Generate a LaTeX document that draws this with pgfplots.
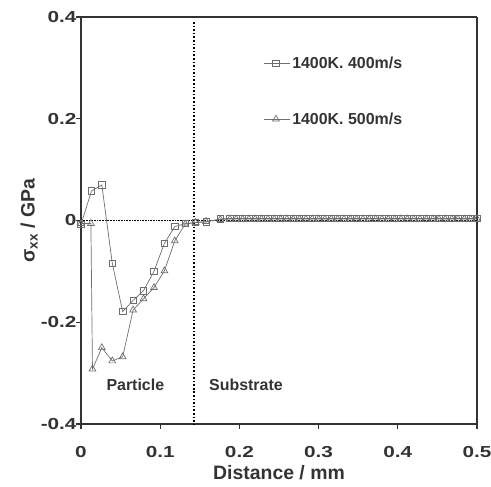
\documentclass[border=0pt]{standalone}
\usepackage{fontspec}
\setmainfont{Liberation Sans}
\newfontfamily\tickfont[FakeStretch=1.3]{Liberation Sans}
\usepackage{pgfplots}
\pgfplotsset{compat=1.18}
\definecolor{axgray}{HTML}{333333}
\definecolor{lngray}{HTML}{6E6E6E}

\pgfplotstableread{
x y
0 -0.008
0.0132 0.058
0.0263 0.070
0.0395 -0.084
0.0526 -0.179
0.0658 -0.157
0.0789 -0.138
0.0921 -0.100
0.1053 -0.045
0.1184 -0.012
0.1316 -0.006
0.1447 -0.004
0.1579 -0.003
0.176 0.003
0.188 0.004
0.196 0.004
0.204 0.004
0.212 0.004
0.220 0.004
0.228 0.004
0.236 0.004
0.244 0.004
0.252 0.004
0.260 0.004
0.268 0.004
0.276 0.004
0.284 0.004
0.292 0.004
0.300 0.004
0.308 0.004
0.316 0.004
0.324 0.004
0.332 0.004
0.340 0.004
0.348 0.004
0.356 0.004
0.364 0.004
0.372 0.004
0.380 0.004
0.388 0.004
0.396 0.004
0.404 0.004
0.412 0.004
0.420 0.004
0.428 0.004
0.436 0.004
0.444 0.004
0.452 0.004
0.460 0.004
0.468 0.004
0.476 0.004
0.484 0.004
0.492 0.004
0.500 0.004
}\sqdata

\pgfplotstableread{
x y
0 -0.006
0.0125 -0.006
0.0145 -0.292
0.0263 -0.250
0.0395 -0.276
0.0526 -0.268
0.0658 -0.176
0.0789 -0.154
0.0921 -0.132
0.1053 -0.099
0.1184 -0.040
0.1316 -0.007
0.1447 -0.004
0.1579 -0.002
0.176 0.002
0.188 0.003
0.196 0.003
0.204 0.003
0.212 0.003
0.220 0.003
0.228 0.003
0.236 0.003
0.244 0.003
0.252 0.003
0.260 0.003
0.268 0.003
0.276 0.003
0.284 0.003
0.292 0.003
0.300 0.003
0.308 0.003
0.316 0.003
0.324 0.003
0.332 0.003
0.340 0.003
0.348 0.003
0.356 0.003
0.364 0.003
0.372 0.003
0.380 0.003
0.388 0.003
0.396 0.003
0.404 0.003
0.412 0.003
0.420 0.003
0.428 0.003
0.436 0.003
0.444 0.003
0.452 0.003
0.460 0.003
0.468 0.003
0.476 0.003
0.484 0.003
0.492 0.003
0.500 0.003
}\tridata

\begin{document}
\begin{tikzpicture}
\begin{axis}[
    scale only axis,
    width=396bp, height=407bp,
    xmin=0, xmax=0.5, ymin=-0.4, ymax=0.4,
    xtick={0,0.1,0.2,0.3,0.4,0.5},
    ytick={-0.4,-0.2,0,0.2,0.4},
    xticklabels={0,0.1,0.2,0.3,0.4,0.5},
    yticklabels={-0.4,-0.2,0,0.2,0.4},
    separate axis lines,
    tick align=outside,
    xtick pos=bottom, ytick pos=left,
    major tick length=5bp,
    axis line style={axgray, line width=1.6pt},
    tick style={axgray, line width=1.3pt},
    ticklabel style={font=\tickfont\fontsize{16}{18}\selectfont\bfseries, text=axgray},
    xticklabel style={yshift=-14bp},
    yticklabel style={xshift=4bp},
    xlabel={Distance / mm},
    ylabel={σ\textsubscript{xx} / GPa},
    label style={font=\fontsize{19.5}{21}\selectfont\bfseries, text=axgray},
    xlabel style={at={(axis description cs:0.5,-0.119)}, anchor=center},
    ylabel style={at={(axis description cs:-0.131,0.5)}, anchor=center},
    legend style={draw=none, fill=none, at={(0.453,0.913)}, anchor=north west,
        font=\fontsize{16}{18}\selectfont\bfseries, text=axgray,
        row sep=39bp},
    legend cell align=left,
    legend image code/.code={
        \path (0bp,0bp) -- (26bp,0bp);
        \draw[#1] (0bp,0bp) -- (24bp,0bp);
        \draw[#1, only marks] plot coordinates {(12bp,0bp)};
    },
    clip=false,
]
\draw[black, densely dotted, line width=0.6pt] (axis cs:0,0) -- (axis cs:0.5,0);
\draw[black, dotted, line width=1.6pt] (axis cs:0.143,0.39) -- (axis cs:0.143,-0.4);
\addplot[lngray, line width=0.7pt, mark=square, mark size=3.2bp,
    mark options={solid, fill=white, draw=lngray, line width=0.7pt}]
    table[x=x, y=y] {\sqdata};
\addlegendentry{1400K. 400m/s}
\addplot[lngray, line width=0.7pt, mark=triangle, mark size=3.9bp,
    mark options={solid, fill=white, draw=lngray, line width=0.7pt}]
    table[x=x, y=y] {\tridata};
\addlegendentry{1400K. 500m/s}
\node[font=\fontsize{16}{18}\selectfont\bfseries, text=axgray] at (axis cs:0.0686,-0.323) {Particle};
\node[font=\fontsize{16}{18}\selectfont\bfseries, text=axgray] at (axis cs:0.2083,-0.323) {Substrate};
\end{axis}
\pgfresetboundingbox
\path[use as bounding box] (current axis.south west) ++(-81bp,-63bp)
    rectangle ([shift={(14bp,17bp)}]current axis.north east);
\end{tikzpicture}
\end{document}
